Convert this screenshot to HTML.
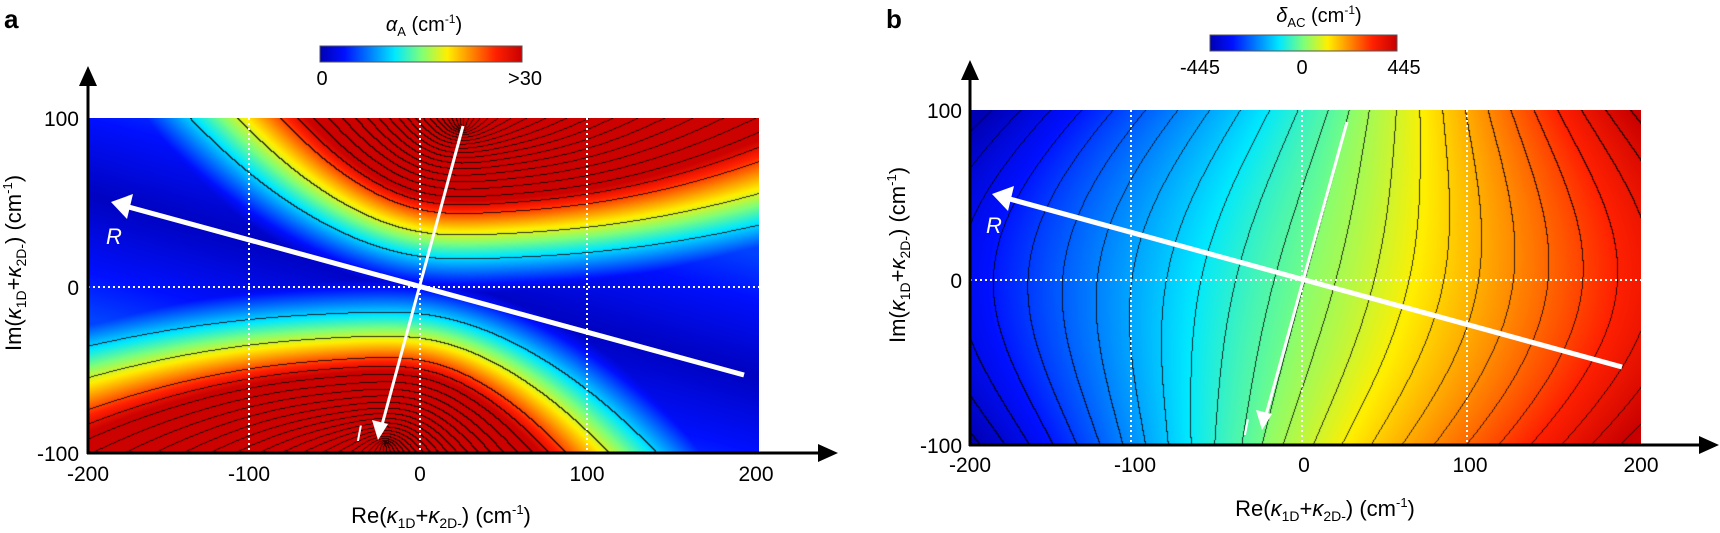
<!DOCTYPE html>
<html><head><meta charset="utf-8">
<style>
html,body{margin:0;padding:0;background:#fff;}
#wrap{position:relative;width:1720px;height:533px;overflow:hidden;font-family:"Liberation Sans",Arial,sans-serif;}
canvas{position:absolute;}
svg{position:absolute;left:0;top:0;}
</style></head>
<body><div id="wrap">
<canvas id="ca" width="671" height="335" style="left:88px;top:118px"></canvas>
<canvas id="cb" width="671" height="335" style="left:970px;top:110px"></canvas>
<svg width="1720" height="533" viewBox="0 0 1720 533" font-family="Liberation Sans, Arial, sans-serif">
<defs>
<linearGradient id="jet" x1="0" x2="1" y1="0" y2="0">
<stop offset="0" stop-color="#0000b4"/><stop offset="0.12" stop-color="#0010ff"/>
<stop offset="0.37" stop-color="#00e8ff"/><stop offset="0.5" stop-color="#7dff7a"/>
<stop offset="0.63" stop-color="#ffef00"/><stop offset="0.87" stop-color="#ff2000"/>
<stop offset="1" stop-color="#c80000"/></linearGradient>
</defs>
<!-- Panel a -->
<text x="4" y="28" font-size="26" font-weight="bold">a</text>
<text x="424" y="31" font-size="20" text-anchor="middle"><tspan font-style="italic">α</tspan><tspan font-size="13" dy="5">A</tspan><tspan dy="-5"> (cm</tspan><tspan font-size="12" dy="-8">-1</tspan><tspan dy="8">)</tspan></text>
<rect x="320" y="46" width="202" height="16" fill="url(#jet)" stroke="#555" stroke-width="1"/>
<text x="322" y="85" font-size="20" text-anchor="middle">0</text>
<text x="525" y="85" font-size="20" text-anchor="middle">&gt;30</text>
<g stroke="#fff" stroke-width="2" stroke-dasharray="2,3" fill="none">
<line x1="249" y1="118" x2="249" y2="453"/><line x1="420" y1="118" x2="420" y2="453"/><line x1="587" y1="118" x2="587" y2="453"/>
<line x1="88" y1="287" x2="759" y2="287"/></g>
<g stroke="#fff" fill="#fff">
<line x1="744" y1="375" x2="125" y2="206" stroke-width="5"/>
<polygon points="111,202 133,194 127,219" stroke="none"/>
<line x1="463" y1="126" x2="382" y2="425" stroke-width="3"/>
<polygon points="378,440 372,420 388,424" stroke="none"/>
</g>
<text x="106" y="244" font-size="22" font-style="italic" fill="#fff">R</text>
<text x="356" y="441" font-size="22" font-style="italic" fill="#fff">I</text>
<g stroke="#000" stroke-width="3"><line x1="88" y1="454" x2="88" y2="84"/><line x1="87" y1="453" x2="820" y2="453"/></g>
<polygon points="88,66 79,86 97,86"/><polygon points="838,453 818,444 818,462"/>
<g font-size="21" text-anchor="end"><text x="79" y="126">100</text><text x="79" y="295">0</text><text x="79" y="461">-100</text></g>
<g font-size="21" text-anchor="middle"><text x="88" y="481">-200</text><text x="249" y="481">-100</text><text x="420" y="481">0</text><text x="587" y="481">100</text><text x="756" y="481">200</text></g>
<text x="441" y="523" font-size="22" text-anchor="middle">Re(<tspan font-style="italic">κ</tspan><tspan font-size="14" dy="5">1D</tspan><tspan dy="-5">+</tspan><tspan font-style="italic">κ</tspan><tspan font-size="14" dy="5">2D-</tspan><tspan dy="-5">) (cm</tspan><tspan font-size="13" dy="-9">-1</tspan><tspan dy="9">)</tspan></text>
<text transform="translate(21,263) rotate(-90)" font-size="22" text-anchor="middle">Im(<tspan font-style="italic">κ</tspan><tspan font-size="14" dy="5">1D</tspan><tspan dy="-5">+</tspan><tspan font-style="italic">κ</tspan><tspan font-size="14" dy="5">2D-</tspan><tspan dy="-5">) (cm</tspan><tspan font-size="13" dy="-9">-1</tspan><tspan dy="9">)</tspan></text>

<!-- Panel b -->
<text x="886" y="28" font-size="26" font-weight="bold">b</text>
<text x="1319" y="22" font-size="20" text-anchor="middle"><tspan font-style="italic">δ</tspan><tspan font-size="13" dy="5">AC</tspan><tspan dy="-5"> (cm</tspan><tspan font-size="12" dy="-8">-1</tspan><tspan dy="8">)</tspan></text>
<rect x="1210" y="35" width="187" height="16" fill="url(#jet)" stroke="#555" stroke-width="1"/>
<text x="1200" y="74" font-size="20" text-anchor="middle">-445</text>
<text x="1302" y="74" font-size="20" text-anchor="middle">0</text>
<text x="1404" y="74" font-size="20" text-anchor="middle">445</text>
<g stroke="#fff" stroke-width="2" stroke-dasharray="2,3" fill="none">
<line x1="1131" y1="110" x2="1131" y2="445"/><line x1="1302" y1="110" x2="1302" y2="445"/><line x1="1467" y1="110" x2="1467" y2="445"/>
<line x1="970" y1="280" x2="1641" y2="280"/></g>
<g stroke="#fff" fill="#fff">
<line x1="1622" y1="367" x2="1006" y2="198" stroke-width="5"/>
<polygon points="992,194 1014,186 1008,211" stroke="none"/>
<line x1="1347" y1="122" x2="1266" y2="415" stroke-width="3"/>
<polygon points="1262,430 1256,410 1272,414" stroke="none"/>
</g>
<text x="986" y="233" font-size="22" font-style="italic" fill="#fff">R</text>
<text x="1243" y="435" font-size="22" font-style="italic" fill="#fff">I</text>
<g stroke="#000" stroke-width="3"><line x1="970" y1="446" x2="970" y2="78"/><line x1="969" y1="445" x2="1700" y2="445"/></g>
<polygon points="970,60 961,80 979,80"/><polygon points="1719,445 1699,436 1699,454"/>
<g font-size="21" text-anchor="end"><text x="962" y="118">100</text><text x="962" y="288">0</text><text x="962" y="453">-100</text></g>
<g font-size="21" text-anchor="middle"><text x="970" y="472">-200</text><text x="1135" y="472">-100</text><text x="1304" y="472">0</text><text x="1470" y="472">100</text><text x="1641" y="472">200</text></g>
<text x="1325" y="516" font-size="22" text-anchor="middle">Re(<tspan font-style="italic">κ</tspan><tspan font-size="14" dy="5">1D</tspan><tspan dy="-5">+</tspan><tspan font-style="italic">κ</tspan><tspan font-size="14" dy="5">2D-</tspan><tspan dy="-5">) (cm</tspan><tspan font-size="13" dy="-9">-1</tspan><tspan dy="9">)</tspan></text>
<text transform="translate(905,255) rotate(-90)" font-size="22" text-anchor="middle">Im(<tspan font-style="italic">κ</tspan><tspan font-size="14" dy="5">1D</tspan><tspan dy="-5">+</tspan><tspan font-style="italic">κ</tspan><tspan font-size="14" dy="5">2D-</tspan><tspan dy="-5">) (cm</tspan><tspan font-size="13" dy="-9">-1</tspan><tspan dy="9">)</tspan></text>
</svg>
</div>
<script>
function jet(t){
  if(t<0)t=0;if(t>1)t=1;
  var st=[[0,0,0,180],[0.12,0,16,255],[0.37,0,232,255],[0.5,125,255,122],[0.63,255,239,0],[0.87,255,32,0],[1,200,0,0]];
  for(var i=1;i<st.length;i++){if(t<=st[i][0]){var a=st[i-1],b=st[i],u=(t-a[0])/(b[0]-a[0]);
   return [a[1]+(b[1]-a[1])*u,a[2]+(b[2]-a[2])*u,a[3]+(b[3]-a[3])*u];}}
  return [200,0,0];
}
function qtop(x,y){
  var dx=x-23, dy=y-94;
  var s=0.725-0.275*Math.tanh(dx/40);
  var u=dx*s, r=Math.sqrt(u*u+dy*dy);
  return Math.sqrt(Math.max(0,r-dy));
}
function draw(id,valfn,colfn,levfn){
  var c=document.getElementById(id),ctx=c.getContext('2d'),W=c.width,H=c.height;
  var img=ctx.createImageData(W,H),v=new Float64Array((W+1)*(H+1));
  for(var j=0;j<=H;j++)for(var i=0;i<=W;i++){
    var x=-200+400*i/W, y=100-200*j/H; v[j*(W+1)+i]=valfn(x,y);}
  for(var j=0;j<H;j++)for(var i=0;i<W;i++){
    var x=-200+400*i/W, y=100-200*j/H;
    var a=v[j*(W+1)+i],b=v[j*(W+1)+i+1],d=v[(j+1)*(W+1)+i];
    var col=colfn(a,x,y);
    var la=levfn(a),lb=levfn(b),ld=levfn(d);
    if(la!=lb||la!=ld){col=[col[0]*0.2,col[1]*0.2,col[2]*0.2];}
    var k=(j*W+i)*4;img.data[k]=col[0];img.data[k+1]=col[1];img.data[k+2]=col[2];img.data[k+3]=255;}
  ctx.putImageData(img,0,0);
}
draw('ca',function(x,y){return Math.min(qtop(x,y),qtop(-x,-y));},
  function(q,x,y){
    var t=(14.2-q)/4.9; if(t>1)t=1;
    var dist=Math.abs(y+0.27*x)/1.036;
    var base=0.02+0.16*Math.min(1,dist/70);
    if(t<base)t=base;
    return jet(t*0.99);},
  function(q){var h=q>=10.1?(13.7-q)/1.2:3+(10.1-q)/0.52;if(h<0)h=0;return Math.floor(h);});
draw('cb',function(x,y){
    var yy=y/100;
    var xs=x-0.27*y*Math.exp(-(x*x)/(130*130));
    var d=2.225*xs*(1+0.3*yy*yy);
    d+= (xs>0?1:-1)*12*Math.exp(-(xs*xs)/400);
    return d;},
  function(a){return jet(0.5+a/445*0.4);},
  function(a){return Math.floor(a/46);});
</script>
</body></html>
